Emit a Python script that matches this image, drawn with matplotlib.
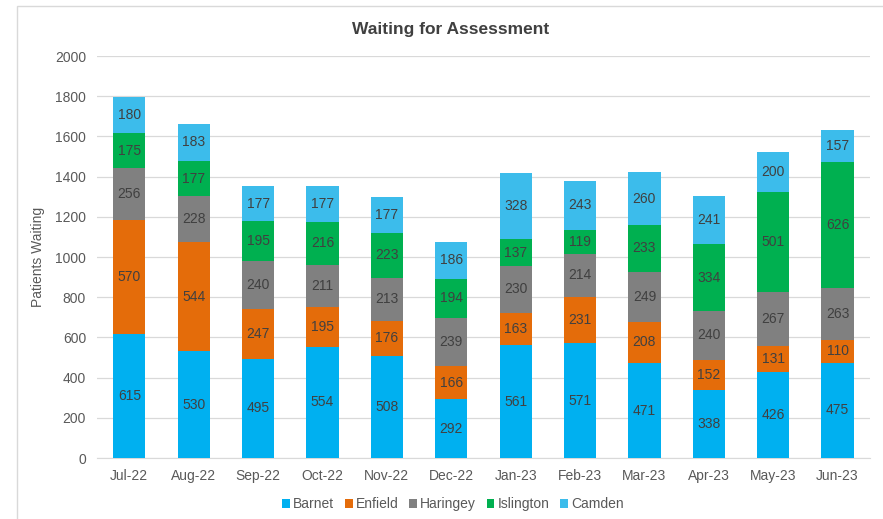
import matplotlib
matplotlib.use('Agg')
import matplotlib.pyplot as plt
import numpy as np
from matplotlib.patches import Rectangle

plt.rcParams['font.family'] = ['Liberation Sans', 'DejaVu Sans']

months = ['Jul-22', 'Aug-22', 'Sep-22', 'Oct-22', 'Nov-22', 'Dec-22',
          'Jan-23', 'Feb-23', 'Mar-23', 'Apr-23', 'May-23', 'Jun-23']
barnet = [615, 530, 495, 554, 508, 292, 561, 571, 471, 338, 426, 475]
enfield = [570, 544, 247, 195, 176, 166, 163, 231, 208, 152, 131, 110]
haringey = [256, 228, 240, 211, 213, 239, 230, 214, 249, 240, 267, 263]
islington = [175, 177, 195, 216, 223, 194, 137, 119, 233, 334, 501, 626]
camden = [180, 183, 177, 177, 177, 186, 328, 243, 260, 241, 200, 157]

series = [('Barnet', barnet, '#00B0F0'),
          ('Enfield', enfield, '#E46C0A'),
          ('Haringey', haringey, '#808080'),
          ('Islington', islington, '#00B050'),
          ('Camden', camden, '#3CBCEB')]

fig = plt.figure(figsize=(8.83, 5.19), dpi=100)
ax = fig.add_axes([0.110, 0.1175, 0.875, 0.7745])

x = np.arange(len(months))
bottom = np.zeros(len(months))
for name, vals, col in series:
    bars = ax.bar(x, vals, 0.5, bottom=bottom, color=col, label=name, zorder=3)
    ax.bar_label(bars, labels=[str(v) for v in vals], label_type='center',
                 color='#404040', fontsize=10)
    bottom += np.array(vals)

ax.set_xlim(-0.5, len(months) - 0.5)
ax.set_ylim(0, 2000)
ax.set_yticks(range(0, 2001, 200))
ax.set_xticks(x)
ax.set_xticklabels(months)
ax.tick_params(length=0, colors='#595959', labelsize=10, pad=8)
ax.grid(axis='y', color='#D9D9D9', linewidth=0.9, zorder=0)
for s in ['top', 'right', 'left']:
    ax.spines[s].set_visible(False)
ax.spines['bottom'].set_color('#D9D9D9')
ax.set_ylabel('Patients Waiting', color='#595959', fontsize=10, labelpad=7)
fig.text(0.51, 0.943, 'Waiting for Assessment', ha='center', va='center',
         fontsize=12.5, fontweight='bold', color='#404040')

ax.legend(loc='center', bbox_to_anchor=(0.513, 0.028), bbox_transform=fig.transFigure,
          ncol=5, frameon=False, fontsize=10, handlelength=0.55, handleheight=0.55,
          handletextpad=0.25, columnspacing=0.75, labelcolor='#595959')

fig.patches.append(Rectangle((17 / 883, -0.01), 1.0, 1 - 6 / 519 + 0.01,
                             transform=fig.transFigure, fill=False,
                             edgecolor='#D9D9D9', linewidth=1))

fig.savefig('out.png', dpi=100)
